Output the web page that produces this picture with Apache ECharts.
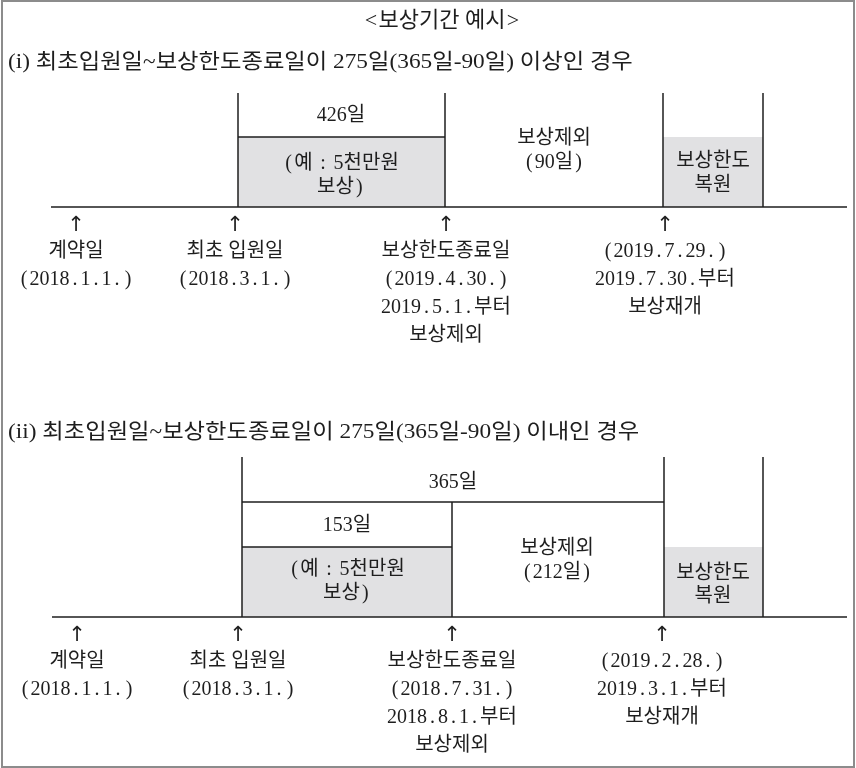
<!DOCTYPE html>
<html><head><meta charset="utf-8">
<script src="https://cdn.jsdelivr.net/npm/echarts@6/dist/echarts.min.js"></script>
<style>html,body{margin:0;padding:0;background:#fff}#c{width:856px;height:768px}</style>
</head><body><div id="c"></div>
<script>
// ---- data ----
const title = '<보상기간 예시>';
const caseHeadings = [
  '(i) 최초입원일~보상한도종료일이 275일(365일-90일) 이상인 경우',
  '(ii) 최초입원일~보상한도종료일이 275일(365일-90일) 이내인 경우'
];
const case1Days = [426, 90];          // 보장기간, 보상제외
const case2Days = [365, 153, 212];    // 1년, 보장기간, 보상제외
const coverNote = ['(예 : 5천만원', '보상)'];
const excludeLabel = '보상제외';
const restoreNote = ['보상한도', '복원'];
const case1Markers = [
  ['계약일', '(2018.1.1.)'],
  ['최초 입원일', '(2018.3.1.)'],
  ['보상한도종료일', '(2019.4.30.)', '2019.5.1.부터', '보상제외'],
  ['(2019.7.29.)', '2019.7.30.부터', '보상재개']
];
const case2Markers = [
  ['계약일', '(2018.1.1.)'],
  ['최초 입원일', '(2018.3.1.)'],
  ['보상한도종료일', '(2018.7.31.)', '2018.8.1.부터', '보상제외'],
  ['(2019.2.28.)', '2019.3.1.부터', '보상재개']
];

// ---- drawing ----
const FONT = '"Liberation Serif","Noto Sans CJK KR",serif';
const INK = '#1e1e1e';
const GRAY = '#e1e1e3';
const chart = echarts.init(document.getElementById('c'));

// wide (full-width style) punctuation via rich text tokens
function wide(s) {
  return s.replace(/[().:<>]/g, c => '{p|' + c + '}');
}

function renderItem(params, api) {
  const kids = [];
  const P = (x, y) => api.coord([x, y]);
  const line = (x1, y1, x2, y2, w, c) => {
    const a = P(x1, y1), b = P(x2, y2);
    kids.push({ type: 'line', shape: { x1: a[0], y1: a[1], x2: b[0], y2: b[1] },
      style: { stroke: c || INK, lineWidth: w || 1.5 } });
  };
  const rect = (x1, y1, x2, y2, fill) => {
    const a = P(x1, y1), b = P(x2, y2);
    kids.push({ type: 'rect', shape: { x: a[0], y: a[1], width: b[0] - a[0], height: b[1] - a[1] },
      style: { fill: fill } });
  };
  const text = (t, x, y, size, align, pw, scaleX) => {
    const a = P(x, y);
    size = size || 19;
    const el = { type: 'text', x: a[0], y: a[1], scaleX: scaleX || 1,
      style: { text: pw ? wide(t) : t, x: 0, y: 0, fill: INK,
        fontSize: size, fontFamily: FONT,
        align: align || 'center', verticalAlign: 'middle',
        textAlign: align || 'center', textVerticalAlign: 'middle',
        rich: pw ? { p: { width: pw, align: 'center', fontSize: size, fontFamily: FONT, fill: INK } } : undefined } };
    kids.push(el);
  };
  const arrow = (x, y) => {
    const a = P(x, y);
    kids.push({ type: 'text', style: { text: '↑', x: a[0], y: a[1], fill: INK,
      fontSize: 21, fontFamily: '"DejaVu Sans"', align: 'center', verticalAlign: 'middle',
      textAlign: 'center', textVerticalAlign: 'middle' } });
  };
  const markers = (list, xs, yArrow, y0, step) => {
    list.forEach((lines, i) => {
      arrow(xs[i], yArrow);
      lines.forEach((t, j) => text(t, xs[i], y0 + j * step, 20, 'center', 11));
    });
  };

  // frame
  const f1 = P(2, 1), f2 = P(854, 767);
  kids.push({ type: 'rect', shape: { x: f1[0], y: f1[1], width: f2[0] - f1[0], height: f2[1] - f1[1] },
    style: { fill: 'none', stroke: '#8c8c8c', lineWidth: 2 } });

  text(title, 442, 21, 22, 'center', 15);
  text(caseHeadings[0], 8, 62, 21, 'left', 0, 1.11);
  text(caseHeadings[1], 8, 432, 21, 'left', 0, 1.11);

  // ----- case (i) -----
  rect(238, 137, 445, 207, GRAY);
  rect(663, 137, 763, 207, GRAY);
  line(51, 207, 847, 207);
  [238, 445, 663, 763].forEach(x => line(x, 93, x, 207));
  line(238, 137, 445, 137);
  text(case1Days[0] + '일', 341, 116, 20, 'center', 11);
  text(coverNote[0], 341, 164, 20, 'center', 11);
  text(coverNote[1], 341, 188, 20, 'center', 11);
  text(excludeLabel, 554, 139, 20, 'center', 11);
  text('(' + case1Days[1] + '일)', 554, 163, 20, 'center', 11);
  text(restoreNote[0], 713, 162, 20);
  text(restoreNote[1], 713, 186, 20);
  markers(case1Markers, [76, 235, 446, 665], 226, 252, 28);

  // ----- case (ii) -----
  rect(242, 547, 452, 617, GRAY);
  rect(664, 547, 763, 617, GRAY);
  line(52, 617, 847, 617);
  [242, 664, 763].forEach(x => line(x, 457, x, 617));
  line(452, 502, 452, 617);
  line(242, 502, 664, 502);
  line(242, 547, 452, 547);
  text(case2Days[0] + '일', 453, 483, 20, 'center', 11);
  text(case2Days[1] + '일', 347, 526, 20, 'center', 11);
  text(coverNote[0], 347, 570, 20, 'center', 11);
  text(coverNote[1], 347, 594, 20, 'center', 11);
  text(excludeLabel, 557, 549, 20, 'center', 11);
  text('(' + case2Days[2] + '일)', 557, 573, 20, 'center', 11);
  text(restoreNote[0], 713, 574, 20);
  text(restoreNote[1], 713, 597, 20);
  markers(case2Markers, [77, 238, 452, 662], 636, 662, 28);

  return { type: 'group', children: kids };
}

chart.setOption({
  animation: false,
  grid: { left: 0, right: 0, top: 0, bottom: 0 },
  xAxis: { type: 'value', min: 0, max: 856, show: false },
  yAxis: { type: 'value', min: 0, max: 768, inverse: true, show: false },
  series: [{ type: 'custom', renderItem: renderItem, data: [[0, 0]], silent: true }]
});
</script></body></html>
